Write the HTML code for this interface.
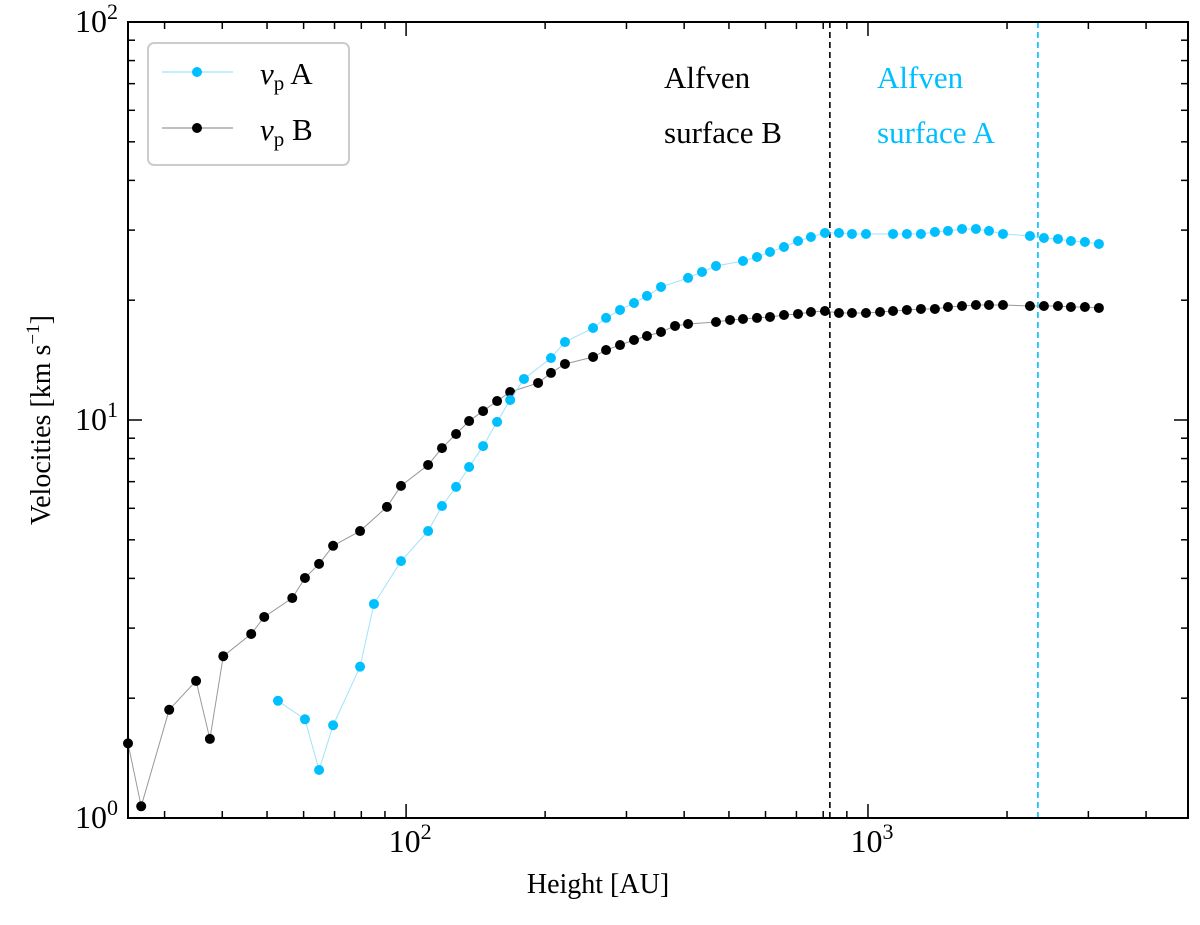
<!DOCTYPE html>
<html><head><meta charset="utf-8">
<style>
body{margin:0;background:#fff;}
svg text{font-family:"Liberation Serif","DejaVu Serif",serif;}
</style></head>
<body>
<svg id="chart" width="1200" height="920" viewBox="0 0 1200 920" xmlns="http://www.w3.org/2000/svg">
<g id="grid-layer"></g>
</svg>
<script>
const xsB = [25.0,26.7,30.7,35.1,37.6,40.2,46.2,49.3,56.7,60.4,64.8,69.5,79.5,90.9,97.5,111.6,119.6,128.3,136.9,146.8,157.4,168.0,193.1,205.9,220.8,254.0,271.0,290.5,311.5,332.3,356.4,382.2,407.8,468.8,502.7,536.3,575.1,613.6,657.9,705.5,752.5,806.9,865.3,923.3,990.1,1062,1133,1214,1302,1396,1490,1598,1713,1828,1960,2242,2404,2578,2750,2949,3162];
const vB = [1.54,1.07,1.87,2.21,1.58,2.55,2.90,3.20,3.57,4.01,4.35,4.83,5.26,6.05,6.83,7.71,8.50,9.22,9.94,10.53,11.16,11.76,12.39,13.13,13.83,14.40,14.99,15.43,15.89,16.26,16.64,17.23,17.43,17.63,17.84,17.94,18.05,18.15,18.36,18.47,18.68,18.79,18.57,18.57,18.57,18.68,18.79,18.90,19.01,19.01,19.23,19.34,19.45,19.45,19.45,19.34,19.34,19.34,19.23,19.23,19.12];
const xsA = [52.8,60.4,64.8,69.5,79.5,85.2,97.5,111.6,119.6,128.3,136.9,146.8,157.4,168.0,180.0,205.9,220.8,254.0,271.0,290.5,311.5,332.3,356.4,407.8,437.2,468.8,536.3,575.1,613.6,657.9,705.5,752.5,806.9,865.3,923.3,990.1,1133,1214,1302,1396,1490,1598,1713,1828,1960,2242,2404,2578,2750,2949,3162];
const vA = [1.97,1.77,1.32,1.71,2.40,3.45,4.42,5.26,6.08,6.79,7.62,8.60,9.89,11.23,12.68,14.31,15.70,17.03,18.05,18.90,19.68,20.50,21.59,22.75,23.55,24.38,25.09,25.68,26.43,27.21,28.17,28.83,29.51,29.51,29.34,29.34,29.34,29.34,29.34,29.68,29.86,30.20,30.20,29.86,29.34,29.00,28.66,28.50,28.17,28.01,27.69];
const alfvenX = [827, 2333];
const xMajorTicks = [100, 1000];
const yMajorTicks = [1, 10, 100];

const L=128,R=1188,T=22,B=818, XMIN=25, XMAX=4930, YMIN=1, YMAX=100;
const NS="http://www.w3.org/2000/svg";
const svg=document.getElementById('chart');
function X(v){return L+(Math.log10(v)-Math.log10(XMIN))/(Math.log10(XMAX)-Math.log10(XMIN))*(R-L);}
function Y(v){return B-(Math.log10(v)-Math.log10(YMIN))/(Math.log10(YMAX)-Math.log10(YMIN))*(B-T);}
function mk(tag,attrs,parent){const e=document.createElementNS(NS,tag);for(const k in attrs)e.setAttribute(k,attrs[k]);(parent||svg).appendChild(e);return e;}

const ticks=mk('g',{});


for(let d=10;d<=1000;d*=10){for(let m=1;m<10;m++){const v=d*m;if(v<XMIN||v>XMAX)continue;const x=X(v);const len=(m===1)?14:7;
mk('line',{x1:x,x2:x,y1:B,y2:B-len,stroke:'#000','stroke-width':1.5},ticks);mk('line',{x1:x,x2:x,y1:T,y2:T+len,stroke:'#000','stroke-width':1.5},ticks);}}
for(let d=1;d<=100;d*=10){for(let m=1;m<10;m++){const v=d*m;if(v>YMAX)continue;const y=Y(v);const len=(m===1)?14:7;
mk('line',{x1:L,x2:L+len,y1:y,y2:y,stroke:'#000','stroke-width':1.5},ticks);mk('line',{x1:R,x2:R-len,y1:y,y2:y,stroke:'#000','stroke-width':1.5},ticks);}}

xMajorTicks.forEach(v=>{const t=mk('text',{x:X(v)+4,y:852,'font-size':32,'text-anchor':'middle'});


t.innerHTML='10<tspan dy="-13" font-size="22">'+Math.round(Math.log10(v))+'</tspan>';});
yMajorTicks.forEach(v=>{const t=mk('text',{x:L-10,y:Y(v)+10,'font-size':32,'text-anchor':'end'});


t.innerHTML='10<tspan dy="-13" font-size="22">'+Math.round(Math.log10(v))+'</tspan>';});

const colA='#00bfff';
alfvenX.forEach((v,i)=>{const l=mk('line',{x1:X(v),x2:X(v),y1:T,y2:B,stroke:i===0?'#000':colA,'stroke-width':1.6,'stroke-dasharray':'6,4'});

});

function series(xs,vs,col,lineCol,name){const g=mk('g',{});


mk('polyline',{points:xs.map((x,i)=>X(x)+','+Y(vs[i])).join(' '),fill:'none',stroke:lineCol,'stroke-width':1},g);
xs.forEach((x,i)=>{const c=mk('circle',{cx:X(x),cy:Y(vs[i]),r:5,fill:col},g);

});}
series(xsB,vB,'#000','#999','series-vp-b');
series(xsA,vA,colA,'#9fe3fb','series-vp-a');

const fr=mk('rect',{x:L,y:T,width:R-L,height:B-T,fill:'none',stroke:'#000','stroke-width':2});


</script>
<svg style="position:absolute;left:0;top:0" width="1200" height="920">
<g font-family="Liberation Serif, serif">
<text x="598" y="893" font-size="28" text-anchor="middle">Height [AU]</text>
<text transform="translate(50,420) rotate(-90)" font-size="28" text-anchor="middle">Velocities [km s<tspan dy="-11" font-size="19">−1</tspan><tspan dy="11">]</tspan></text>
<g font-size="31">
<text x="664" y="88" fill="#000">Alfven</text>
<text x="664" y="143" fill="#000">surface B</text>
<text x="877" y="88" fill="#00bfff">Alfven</text>
<text x="877" y="143" fill="#00bfff">surface A</text>
</g>
<g>
<rect x="148" y="43" width="201" height="122" rx="6" fill="#fff" stroke="#ccc" stroke-width="2"/>
<line x1="162" y1="72" x2="233" y2="72" stroke="#9fe3fb" stroke-width="1.2"/>
<circle cx="197" cy="72" r="5" fill="#00bfff"/>
<text x="260" y="84" font-size="31"><tspan font-style="italic">v</tspan><tspan dy="6" font-size="21">p</tspan><tspan dy="-6"> A</tspan></text>
<line x1="162" y1="128" x2="233" y2="128" stroke="#999" stroke-width="1.2"/>
<circle cx="197" cy="128" r="5" fill="#000"/>
<text x="260" y="140" font-size="31"><tspan font-style="italic">v</tspan><tspan dy="6" font-size="21">p</tspan><tspan dy="-6"> B</tspan></text>
</g>
</g>
</svg>
</body></html>
